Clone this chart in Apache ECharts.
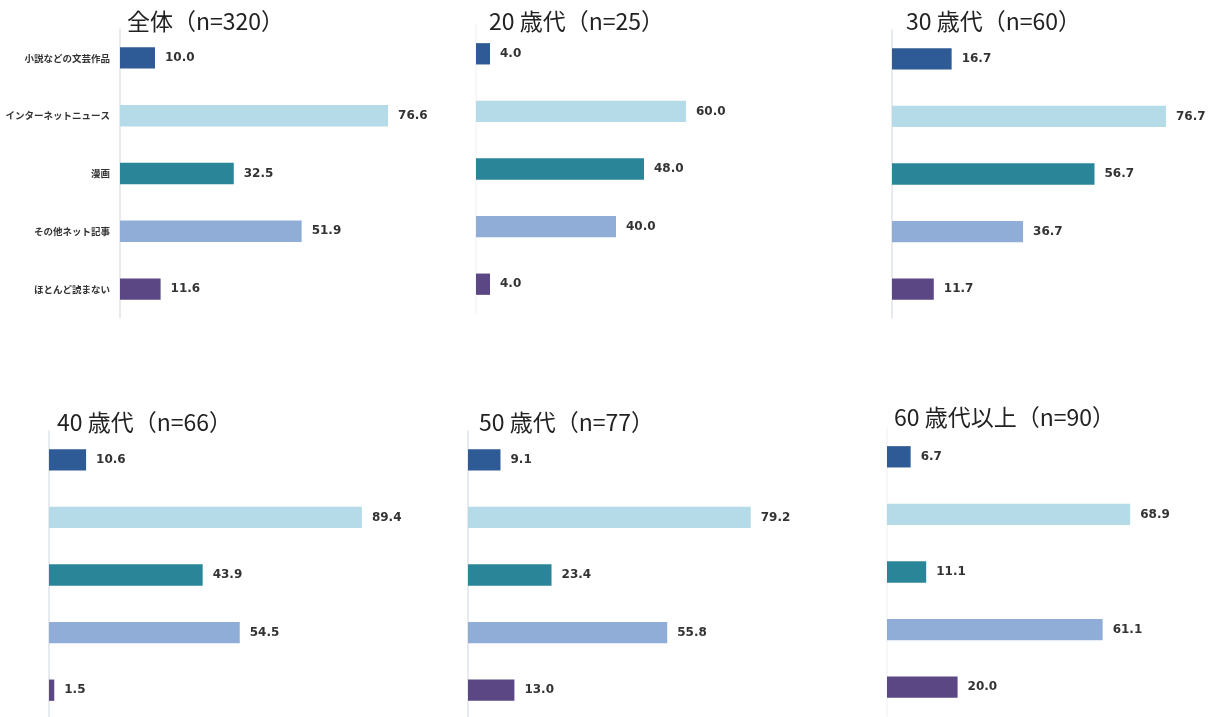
<!DOCTYPE html>
<html>
<head>
<meta charset="utf-8">
<script src="https://cdn.jsdelivr.net/npm/echarts@6/dist/echarts.min.js"></script>
<style>
  html, body { margin: 0; padding: 0; background: #fff; }
  #chart { width: 1217px; height: 717px; }
</style>
</head>
<body>
<div id="chart"></div>
<script>
// カテゴリ
const categories = ['小説などの文芸作品', 'インターネットニュース', '漫画', 'その他ネット記事', 'ほとんど読まない']

// パネルごとのタイトル
const panelTitles = ['全体（n=320）', '20 歳代（n=25）', '30 歳代（n=60）', '40 歳代（n=66）', '50 歳代（n=77）', '60 歳代以上（n=90）']

// 各パネルの値 (%)
const allValues = [10.0, 76.6, 32.5, 51.9, 11.6]
const age20Values = [4.0, 60.0, 48.0, 40.0, 4.0]
const age30Values = [16.7, 76.7, 56.7, 36.7, 11.7]
const age40Values = [10.6, 89.4, 43.9, 54.5, 1.5]
const age50Values = [9.1, 79.2, 23.4, 55.8, 13.0]
const age60Values = [6.7, 68.9, 11.1, 61.1, 20.0]

const panelValues = [allValues, age20Values, age30Values, age40Values, age50Values, age60Values]

// 棒の色 (カテゴリ順)
const barColors = ['#2e5b95', '#b4dbe7', '#2b8599', '#8fadd7', '#5a4784']

// パネル配置 (xMax は横軸の上限: 1 単位あたりの長さを合わせるため)
const layouts = [
  { left: 120, top: 29, width: 350, height: 289, xMax: 100, titleLeft: 127, titleTop: 10, axisColor: '#dfe3e8' },
  { left: 476, top: 25, width: 350, height: 288, xMax: 100, titleLeft: 489, titleTop: 10, axisColor: '#f3f4f6' },
  { left: 892, top: 30, width: 300, height: 288, xMax: 84, titleLeft: 906, titleTop: 10, axisColor: '#dfe3e8' },
  { left: 49, top: 431, width: 350, height: 288, xMax: 100, titleLeft: 57, titleTop: 411, axisColor: '#dfe3e8' },
  { left: 468, top: 431, width: 357, height: 288, xMax: 100, titleLeft: 479, titleTop: 411, axisColor: '#dfe3e8' },
  { left: 887, top: 428, width: 300, height: 288, xMax: 85, titleLeft: 894, titleTop: 406, axisColor: '#f3f4f6' }
]

const font = '"Noto Sans CJK JP", "Noto Sans", sans-serif'

const chart = echarts.init(document.getElementById('chart'))

const option = {
  backgroundColor: '#ffffff',
  animation: false,
  title: layouts.map((l, i) => ({
    text: panelTitles[i],
    left: l.titleLeft,
    top: l.titleTop,
    padding: 0,
    textStyle: {
      fontFamily: font,
      fontSize: 23,
      fontWeight: 'normal',
      color: '#222'
    }
  })),
  grid: layouts.map(l => ({
    left: l.left,
    top: l.top,
    width: l.width,
    height: l.height,
    containLabel: false,
    outerBoundsMode: 'none'
  })),
  xAxis: layouts.map((l, i) => ({
    type: 'value',
    gridIndex: i,
    min: 0,
    max: l.xMax,
    show: false
  })),
  yAxis: layouts.map((l, i) => ({
    type: 'category',
    gridIndex: i,
    data: categories,
    inverse: true,
    axisLine: { show: true, lineStyle: { color: l.axisColor, width: 1.5 } },
    axisTick: { show: false },
    axisLabel: {
      show: i === 0,
      margin: 10,
      fontFamily: font,
      fontSize: 9.5,
      fontWeight: 'bold',
      color: '#333'
    }
  })),
  series: panelValues.map((vals, i) => ({
    type: 'bar',
    xAxisIndex: i,
    yAxisIndex: i,
    barWidth: '37%',
    data: vals.map((v, k) => ({ value: v, itemStyle: { color: barColors[k] } })),
    label: {
      show: true,
      position: 'right',
      distance: 10,
      formatter: p => p.value.toFixed(1),
      fontFamily: '"DejaVu Sans", sans-serif',
      fontSize: 12,
      fontWeight: 'bold',
      color: '#333'
    }
  }))
}

chart.setOption(option)
</script>
</body>
</html>
